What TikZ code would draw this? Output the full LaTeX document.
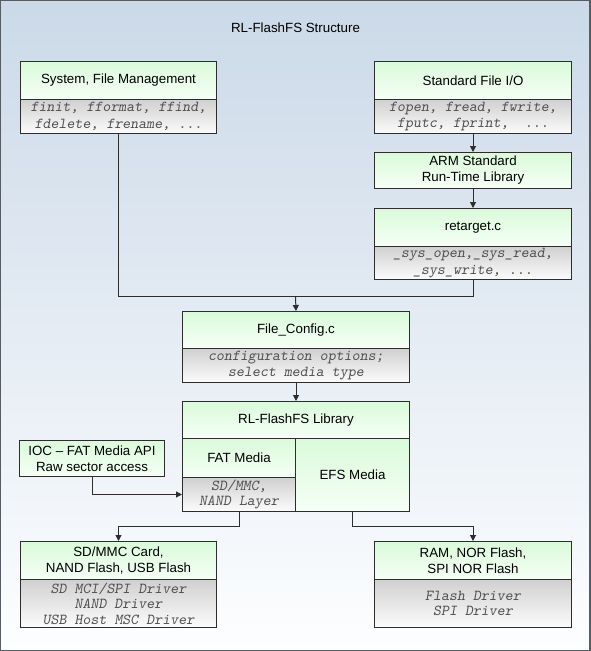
\documentclass[tikz,border=0pt]{standalone}
\usepackage{fontspec}
\setsansfont{Liberation Sans}
\usetikzlibrary{arrows.meta}
\definecolor{bgtop}{RGB}{203,217,232}
\definecolor{bgbot}{RGB}{253,254,255}
\definecolor{hdrtop}{RGB}{218,250,218}
\definecolor{hdrbot}{RGB}{246,255,246}
\definecolor{bodytop}{RGB}{208,208,208}
\definecolor{bodybot}{RGB}{252,252,252}
\definecolor{edge}{RGB}{45,45,45}
\definecolor{monotxt}{RGB}{80,80,80}
\definecolor{framecol}{RGB}{85,92,100}
\begin{document}
\begin{tikzpicture}[x=0.75pt,y=-0.75pt,
  wh/.style 2 args={minimum width=#1*0.75pt, minimum height=#2*0.75pt},
  boxbase/.style={draw=edge, line width=0.75pt, inner sep=0pt, anchor=north west, rectangle, align=center},
  hdr/.style={boxbase, top color=hdrtop, bottom color=hdrbot, font=\sffamily\fontsize{10}{12}\selectfont},
  body/.style={boxbase, top color=bodytop, bottom color=bodybot, text=monotxt, font=\ttfamily\slshape\fontsize{11.4}{12.6}\selectfont},
  tightbody/.style={body, font=\ttfamily\slshape\fontsize{11.4}{11.6}\selectfont},
  conn/.style={draw=edge, line width=0.75pt},
  arr/.style={conn, -{Triangle[length=4.5pt,width=4.5pt]}}
]
\useasboundingbox (0,0) rectangle (591,651);
\shade[top color=bgtop, bottom color=bgbot] (0.5,0.5) rectangle (590,650.5);
\draw[framecol, line width=1.1pt] (0.7,0.7) rectangle (589.8,650.3);

\node[font=\sffamily\fontsize{10}{12}\selectfont] (title) at (295.5,28) {RL-FlashFS Structure};

% top left
\node[hdr, wh={196}{38}] (sysH) at (20,61) {System, File Management};
\node[body, wh={196}{34}] (sysB) at (20,99) {finit, fformat, ffind,\\fdelete, frename, ...};

% top right stack
\node[hdr, wh={197}{38}] (stdH) at (374,61) {Standard File I/O};
\node[body, wh={197}{34}] (stdB) at (374,99) {fopen, fread, fwrite,\\fputc, fprint,\ \ ...};
\node[hdr, wh={197}{36}] (arm) at (374,152) {ARM Standard\\Run-Time Library};
\node[hdr, wh={197}{38}] (retH) at (374,208) {retarget.c};
\node[body, wh={197}{33}] (retB) at (374,246) {\_sys\_open,\_sys\_read,\\\_sys\_write, ...};

% config
\node[hdr, wh={227}{37}] (cfgH) at (182,311) {File\_Config.c};
\node[body, wh={227}{34}] (cfgB) at (182,348) {configuration options;\\select media type};

% library
\node[hdr, wh={227}{37}] (libH) at (182,401) {RL-FlashFS Library};
\node[hdr, wh={113}{39}] (fatH) at (182,438) {FAT Media};
\node[tightbody, wh={113}{34}] (fatB) at (182,477) {SD/MMC,\\NAND Layer};
\node[hdr, wh={114}{73}] (efs) at (295,438) {EFS Media};

% IOC
\node[hdr, wh={145}{36}] (ioc) at (19,440) {IOC – FAT Media API\\Raw sector access};

% bottom
\node[hdr, wh={196}{38}] (sdH) at (20,541) {SD/MMC Card,\\NAND Flash, USB Flash};
\node[tightbody, wh={196}{48}] (sdB) at (20,579) {SD MCI/SPI Driver\\NAND Driver\\USB Host MSC Driver};
\node[hdr, wh={197}{38}] (ramH) at (374,541) {RAM, NOR Flash,\\SPI NOR Flash};
\node[tightbody, wh={197}{48}] (ramB) at (374,579) {Flash Driver\\SPI Driver};

% connectors
\coordinate (join) at (295.5,296);
\draw[conn] (sysB.south) |- (join);
\draw[conn] (retB.south) |- (join);
\draw[arr] (join) -- (cfgH.north);
\draw[arr] (stdB.south) -- (arm.north);
\draw[arr] (arm.south) -- (retH.north);
\draw[arr] (cfgB.south) -- (libH.north);
\draw[arr] (ioc.south) |- (fatB.west);
\draw[arr] (fatB.south) -- ++(0,14) -| (sdH.north);
\draw[arr] (efs.south) -- ++(0,14) -| (ramH.north);
\end{tikzpicture}
\end{document}
